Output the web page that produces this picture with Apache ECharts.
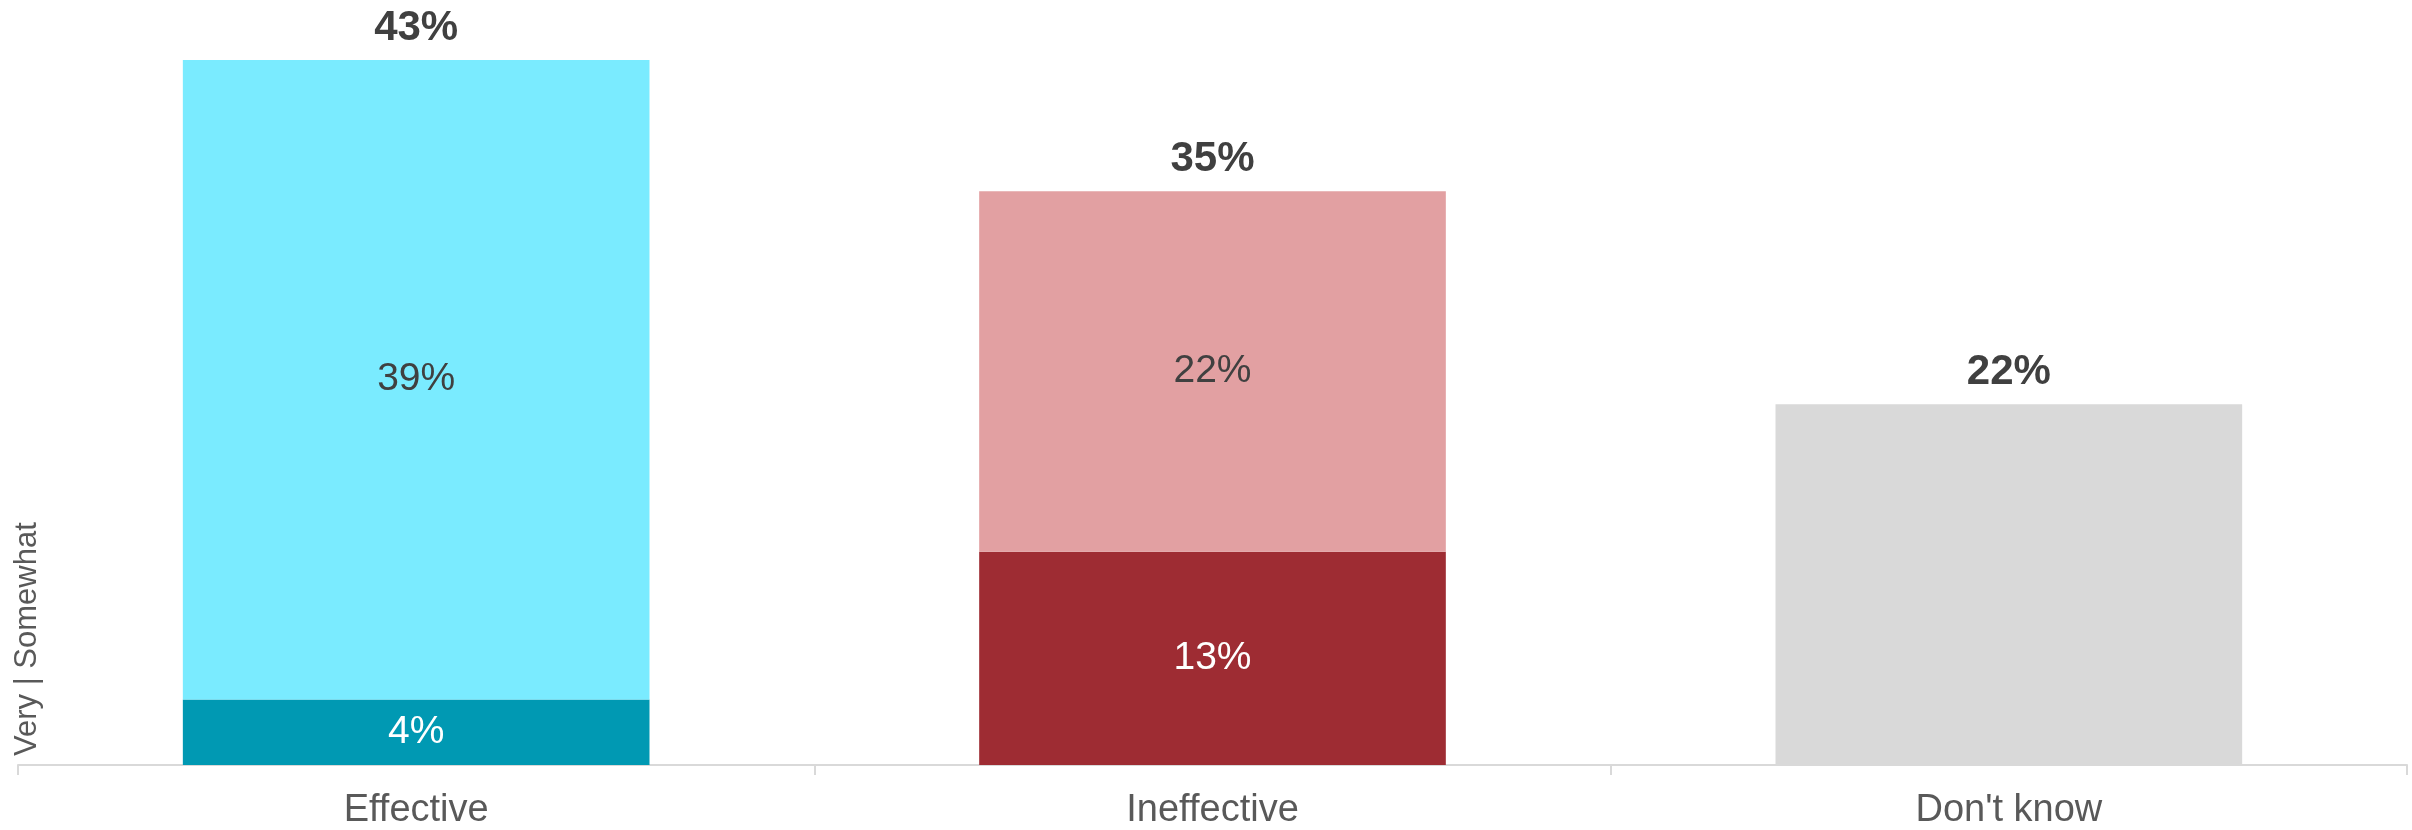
<!DOCTYPE html>
<html>
<head>
<meta charset="utf-8">
<script src="https://cdn.jsdelivr.net/npm/echarts@6/dist/echarts.min.js"></script>
<style>
  html, body { margin: 0; padding: 0; background: #fff; }
  #main { width: 2412px; height: 830px; }
</style>
</head>
<body>
<div id="main"></div>
<script>
// data
var categories = ['Effective', 'Ineffective', "Don't know"];
var veryValues = [4, 13, '-'];
var somewhatValues = [39, 22, '-'];
var dontKnowValues = ['-', '-', 22];
var totalValues = [43, 35, 22];

// colours per category
var veryColors = ['#0099B3', '#9E2C33'];
var somewhatColors = ['#7AEBFF', '#E2A0A2'];
var dontKnowColor = '#D9D9D9';

var fontFamily = 'Liberation Sans, Arial, sans-serif';

function coloured(values, colors) {
    return values.map(function (v, i) {
        return { value: v, itemStyle: { color: colors[i] } };
    });
}

var chart = echarts.init(document.getElementById('main'));

var option = {
    animation: false,
    grid: {
        left: 18,
        right: 5,
        top: 60,
        bottom: 64,
        containLabel: false
    },
    xAxis: {
        type: 'category',
        data: categories,
        axisLine: { show: true, lineStyle: { color: '#D9D9D9', width: 2 } },
        axisTick: { show: true, alignWithLabel: false, length: 10, lineStyle: { color: '#D9D9D9', width: 2 } },
        axisLabel: {
            margin: 27,
            fontSize: 38,
            color: '#595959',
            fontFamily: fontFamily
        }
    },
    yAxis: {
        type: 'value',
        min: 0,
        max: 43,
        offset: -9,
        axisLine: { show: false },
        axisTick: { show: false },
        axisLabel: { show: false },
        splitLine: { show: false },
        name: 'Very | Somewhat',
        nameLocation: 'start',
        nameRotate: 90,
        nameGap: -9,
        nameTextStyle: {
            fontSize: 31,
            color: '#595959',
            fontFamily: fontFamily,
            align: 'left',
            verticalAlign: 'middle'
        }
    },
    series: [
        {
            name: 'Very',
            type: 'bar',
            stack: 'total',
            barWidth: '58.6%',
            data: coloured(veryValues, veryColors),
            label: {
                show: true,
                position: 'inside',
                fontSize: 39,
                color: '#FFFFFF',
                fontFamily: fontFamily,
                formatter: '{c}%'
            }
        },
        {
            name: 'Somewhat',
            type: 'bar',
            stack: 'total',
            data: coloured(somewhatValues, somewhatColors),
            label: {
                show: true,
                position: 'inside',
                fontSize: 39,
                color: '#404040',
                fontFamily: fontFamily,
                formatter: '{c}%'
            }
        },
        {
            name: "Don't know",
            type: 'bar',
            stack: 'total',
            data: dontKnowValues,
            itemStyle: { color: dontKnowColor }
        },
        {
            // zero-height cap carrying the total label
            name: 'Total',
            type: 'bar',
            stack: 'total',
            data: totalValues.map(function () { return 0; }),
            itemStyle: { color: 'transparent' },
            label: {
                show: true,
                position: 'top',
                distance: 11,
                fontSize: 42,
                fontWeight: 'bold',
                color: '#404040',
                fontFamily: fontFamily,
                formatter: function (p) { return totalValues[p.dataIndex] + '%'; }
            }
        }
    ]
};

chart.setOption(option);
</script>
</body>
</html>
